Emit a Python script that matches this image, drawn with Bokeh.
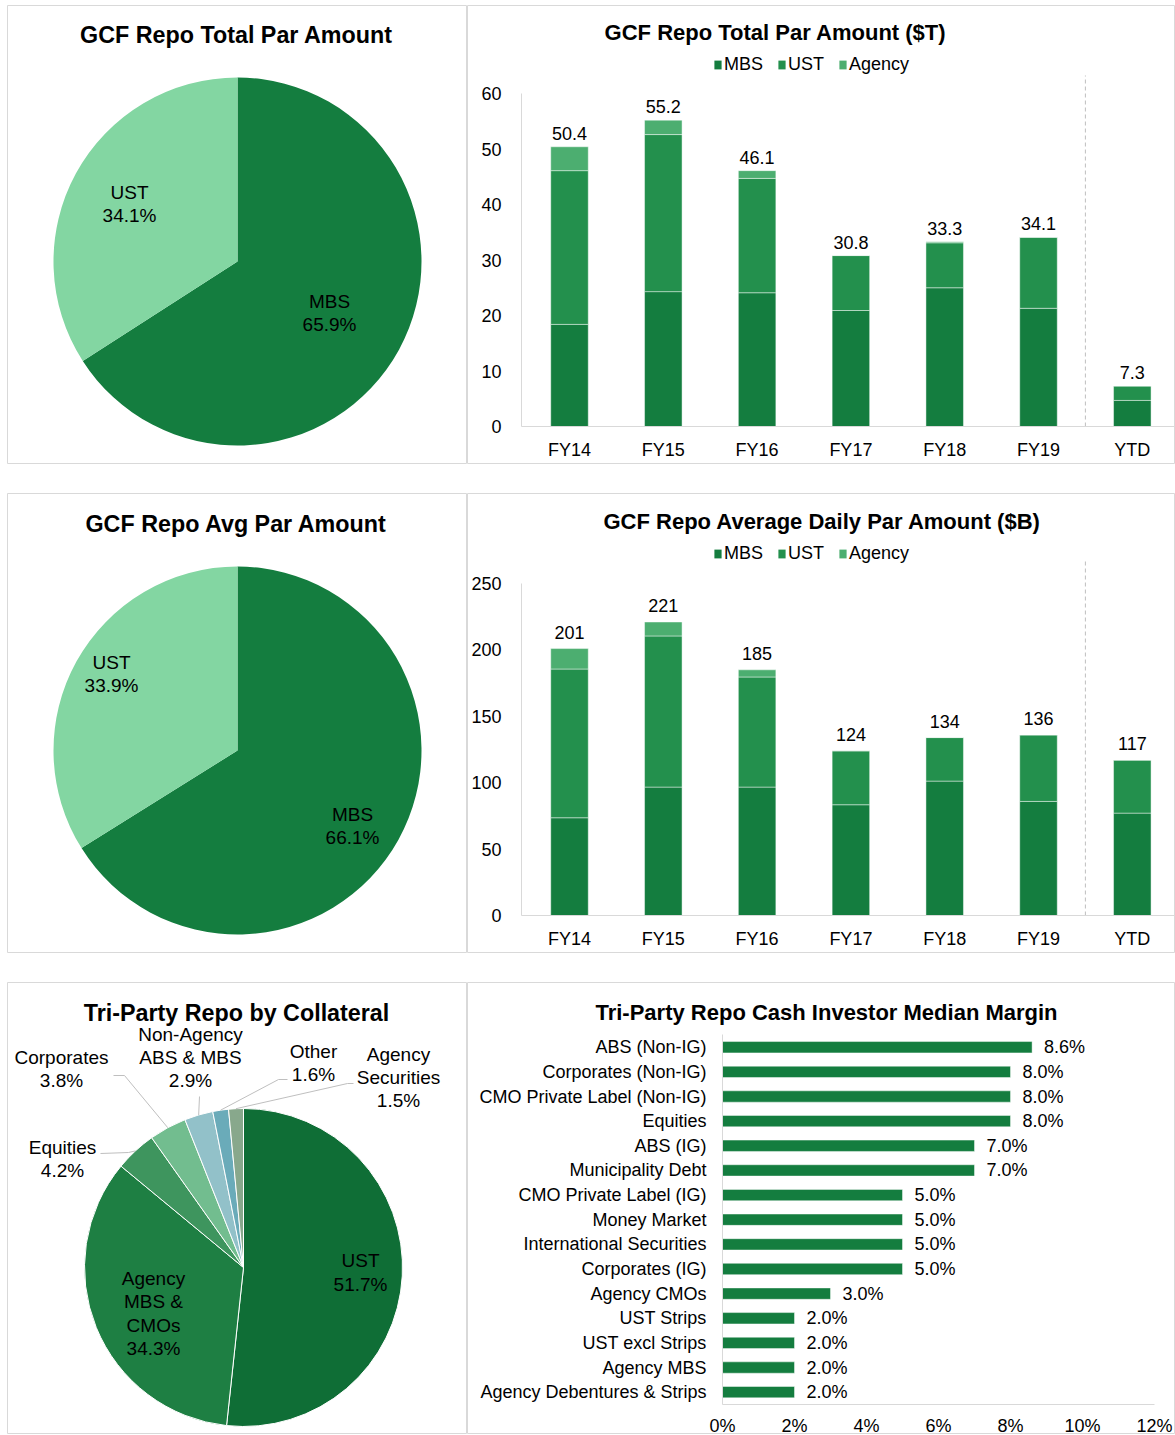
import math
from bokeh.plotting import figure
from bokeh.layouts import column, row
from bokeh.models import (Range1d, FixedTicker, Legend, LegendItem,
                          ColumnDataSource, Spacer, PrintfTickFormatter)
from bokeh.embed import file_html
from bokeh.resources import INLINE
from bokeh.core.properties import value

# ---------------- data ----------------
pie1_title = "GCF Repo Total Par Amount"
pie1_names = ["MBS", "UST"]
pie1_shares = [65.9, 34.1]

pie2_title = "GCF Repo Avg Par Amount"
pie2_names = ["MBS", "UST"]
pie2_shares = [66.1, 33.9]

periods = ["FY14", "FY15", "FY16", "FY17", "FY18", "FY19", "YTD"]
series_names = ["MBS", "UST", "Agency"]

total_title = "GCF Repo Total Par Amount ($T)"
total_mbs = [18.4, 24.3, 24.1, 20.9, 25.0, 21.3, 4.7]
total_ust = [27.7, 28.3, 20.6, 9.9, 8.1, 12.8, 2.6]
total_agency = [4.3, 2.6, 1.4, 0.0, 0.2, 0.0, 0.0]
total_ticks = [0, 10, 20, 30, 40, 50, 60]

avg_title = "GCF Repo Average Daily Par Amount ($B)"
avg_mbs = [73.6, 96.7, 96.7, 83.4, 101.2, 85.9, 77.1]
avg_ust = [112.0, 113.8, 82.9, 40.6, 32.8, 50.1, 39.9]
avg_agency = [15.4, 10.5, 5.4, 0.0, 0.0, 0.0, 0.0]
avg_ticks = [0, 50, 100, 150, 200, 250]

tri_title = "Tri-Party Repo by Collateral"
tri_names = ["UST", "Agency MBS & CMOs", "Equities", "Corporates",
             "Non-Agency ABS & MBS", "Other", "Agency Securities"]
tri_display = ["UST", "Agency\nMBS &\nCMOs", "Equities", "Corporates",
               "Non-Agency\nABS & MBS", "Other", "Agency\nSecurities"]
tri_shares = [51.7, 34.3, 4.2, 3.8, 2.9, 1.6, 1.5]

margin_title = "Tri-Party Repo Cash Investor Median Margin"
margin_categories = ["ABS (Non-IG)", "Corporates (Non-IG)", "CMO Private Label (Non-IG)",
                     "Equities", "ABS (IG)", "Municipality Debt", "CMO Private Label (IG)",
                     "Money Market", "International Securities", "Corporates (IG)",
                     "Agency CMOs", "UST Strips", "UST excl Strips", "Agency MBS",
                     "Agency Debentures & Strips"]
margin_values = [8.6, 8.0, 8.0, 8.0, 7.0, 7.0, 5.0, 5.0, 5.0, 5.0, 3.0, 2.0, 2.0, 2.0, 2.0]
margin_ticks = [0, 2, 4, 6, 8, 10, 12]

# ---------------- style ----------------
FONT = "Liberation Sans"
C_MBS = "#147D3F"
C_UST = "#23904D"
C_AGY = "#4CAE70"
C_UST_LIGHT = "#83D6A2"
TRI_COLORS = ["#0F6E36", "#1E7F43", "#3E955E", "#72BD8F", "#92C1C9", "#6AABB9", "#88A88C"]
LEADER = "#bfbfbf"
AXIS = "#d9d9d9"
PANEL = "#d9d9d9"

# panel boxes on the page: (left, top, width, height)
BOX_P1 = (7, 5, 460, 459)
BOX_B1 = (467, 5, 708, 459)
BOX_P2 = (7, 493, 460, 460)
BOX_B2 = (467, 493, 708, 460)
BOX_P3 = (7, 982, 460, 452)
BOX_M = (467, 982, 708, 452)


def base_figure(box, xr, yr, axes):
    fx, fy, fw, fh = box
    kw = {} if axes else dict(x_axis_location=None, y_axis_location=None)
    p = figure(width=fw, height=fh, x_range=Range1d(*xr), y_range=Range1d(*yr),
               toolbar_location=None, output_backend="svg", min_border=0, title=None, **kw)
    p.grid.visible = False
    p.outline_line_color = PANEL
    p.outline_line_width = 1
    p.background_fill_color = "white"
    p.border_fill_color = "white"
    return p


def add_title(p, x, y, text, size):
    p.text(x=[x], y=[y], text=[text], text_align="center", text_baseline="middle",
           text_font=value(FONT), text_font_size=size, text_font_style="bold",
           text_color="black")


def style_axis(ax, standoff):
    ax.axis_line_color = AXIS
    ax.axis_line_width = 1
    ax.major_tick_line_color = None
    ax.minor_tick_line_color = None
    ax.major_tick_out = 0
    ax.major_tick_in = 0
    ax.major_label_standoff = standoff
    ax.major_label_text_font = FONT
    ax.major_label_text_font_size = "18px"
    ax.major_label_text_color = "black"


def pie_panel(box, title, title_pos, names, shares, colors, center, radius, specs, sep):
    fx, fy, fw, fh = box
    # data coordinates = page pixels, with y negated (so y grows upward)
    p = base_figure(box, (fx, fx + fw), (-(fy + fh), -fy), False)
    cx, cy = center[0], -center[1]
    total = sum(shares)
    starts, ends, mids = [], [], []
    cum = 0.0
    for s in shares:
        f = s / total
        starts.append(math.pi / 2 - 2 * math.pi * cum)
        ends.append(math.pi / 2 - 2 * math.pi * (cum + f))
        mids.append(math.pi / 2 - 2 * math.pi * (cum + f / 2))
        cum += f
    src = ColumnDataSource(dict(start=starts, end=ends, color=colors))
    p.wedge(x=cx, y=cy, radius=radius, start_angle="start", end_angle="end",
            direction="clock", fill_color="color", line_color=sep, line_width=1, source=src)
    lx, ly, txt, xs, ys = [], [], [], [], []
    for name, s, a, spec in zip(names, shares, mids, specs):
        txt.append(f"{name}\n{s:.1f}%")
        lx.append(spec[0][0])
        ly.append(-spec[0][1])
        if spec[1]:
            xs.append([pt[0] for pt in spec[1]] + [cx + radius * math.cos(a)])
            ys.append([-pt[1] for pt in spec[1]] + [cy + radius * math.sin(a)])
    if xs:
        p.multi_line(xs=xs, ys=ys, line_color=LEADER, line_width=1)
    p.text(x=lx, y=ly, text=txt, text_align="center", text_baseline="middle",
           text_font=value(FONT), text_font_size="19px", text_line_height=1.1,
           text_color="black")
    add_title(p, title_pos[0], -title_pos[1], title, "23.3px")
    return p


def stacked_panel(box, title, title_pos, mbs, ust, agy, ticks, fmt,
                  zero_py, top_py, dash_top_py, legend_bottom_py, lab_off):
    fx, fy, fw, fh = box
    step = 93.8         # px between bar centres
    c0 = 569            # page x of first bar centre
    axis_px = 521       # page x of the value axis
    ppu = (zero_py - top_py) / ticks[-1]

    def X(px):
        return (px - c0) / step

    def Y(py):
        return (zero_py - py) / ppu

    p = base_figure(box, (X(fx), X(fx + fw)), (Y(fy + fh), Y(fy)), True)
    idx = list(range(len(periods)))
    src = ColumnDataSource(dict(x=idx, MBS=mbs, UST=ust, Agency=agy))
    colors = [C_MBS, C_UST, C_AGY]
    p.vbar_stack(series_names, x="x", width=0.4, color=colors,
                 line_color="white", line_alpha=0.45, line_width=1, source=src)
    totals = [a + b + c for a, b, c in zip(mbs, ust, agy)]
    p.text(x=idx, y=totals, text=[fmt.format(t) for t in totals], text_align="center",
           text_baseline="bottom", y_offset=lab_off, text_font=value(FONT),
           text_font_size="18px", text_color="black")
    sep = len(periods) - 1.5
    p.segment(x0=[sep], y0=[0], x1=[sep], y1=[Y(dash_top_py)], line_color=LEADER,
              line_dash="4 3", line_width=1)
    p.yaxis.ticker = FixedTicker(ticks=ticks)
    p.yaxis.bounds = (ticks[0], ticks[-1])
    p.yaxis.fixed_location = X(axis_px)
    p.xaxis.ticker = FixedTicker(ticks=idx)
    p.xaxis.major_label_overrides = {i: s for i, s in enumerate(periods)}
    p.xaxis.bounds = (X(axis_px), X(fx + fw))
    p.xaxis.fixed_location = 0
    style_axis(p.yaxis[0], 20)
    style_axis(p.xaxis[0], 13)
    # solid swatches for the legend (zero-height proxies, nothing visible on the plot)
    legend_rs = [p.vbar(x=[0], bottom=[0], top=[0], width=0.4, fill_color=c, line_color=None)
                 for c in colors]
    legend = Legend(items=[LegendItem(label=n, renderers=[r])
                           for n, r in zip(series_names, legend_rs)],
                    location=(713 - fx, fy + fh - legend_bottom_py),
                    orientation="horizontal", glyph_width=9, glyph_height=11,
                    label_standoff=2, spacing=14, padding=0, margin=0,
                    border_line_color=None, background_fill_alpha=0,
                    label_text_font=FONT, label_text_font_size="18px",
                    label_text_color="black", label_height=18)
    p.add_layout(legend)
    add_title(p, X(title_pos[0]), Y(title_pos[1]), title, "22px")
    return p


def margin_panel(box):
    fx, fy, fw, fh = box
    step = 24.64        # px between bars
    base_py = 1404      # page y of the category axis bottom
    x0_px = 722         # page x of 0%
    ppx = 36.0          # px per percentage point
    n = len(margin_categories)

    def X(px):
        return (px - x0_px) / ppx

    def Y(py):
        return (base_py - py) / step - 0.5

    p = base_figure(box, (X(fx), X(fx + fw)), (Y(fy + fh), Y(fy)), True)
    ypos = [n - 1 - i for i in range(n)]
    src = ColumnDataSource(dict(y=ypos, v=margin_values,
                                lab=[f"{v:.1f}%" for v in margin_values]))
    p.hbar(y="y", left=0, right="v", height=0.46, fill_color=C_MBS, line_color="white",
           line_alpha=0.45, line_width=1, source=src)
    p.text(x="v", y="y", text="lab", x_offset=12, text_align="left", text_baseline="middle",
           text_font=value(FONT), text_font_size="18px", text_color="black", source=src)
    p.yaxis.ticker = FixedTicker(ticks=ypos)
    p.yaxis.major_label_overrides = {n - 1 - i: c for i, c in enumerate(margin_categories)}
    p.yaxis.bounds = (-0.5, n - 0.5)
    p.yaxis.fixed_location = 0
    p.xaxis.ticker = FixedTicker(ticks=margin_ticks)
    p.xaxis.formatter = PrintfTickFormatter(format="%d%%")
    p.xaxis.bounds = (margin_ticks[0], margin_ticks[-1])
    p.xaxis.fixed_location = -0.5
    style_axis(p.yaxis[0], 16)
    style_axis(p.xaxis[0], 11)
    add_title(p, X(826), Y(1012), margin_title, "22px")
    return p


# ---------------- panels ----------------
# label specs: (label centre on page, leader elbow points or None)
p1 = pie_panel(BOX_P1, pie1_title, (236, 34), pie1_names, pie1_shares, [C_MBS, C_UST_LIGHT],
               (237, 261), 184, [((329, 312.5), None), ((129, 203.5), None)], None)
p3 = pie_panel(BOX_P2, pie2_title, (236, 523), pie2_names, pie2_shares, [C_MBS, C_UST_LIGHT],
               (237, 750), 184, [((352, 825.5), None), ((111, 673.5), None)], None)
tri_specs = [((360, 1272), None),
             ((153, 1313), None),
             ((62, 1158.5), [(100, 1153), (128, 1152)]),
             ((61, 1068.5), [(113, 1075), (124, 1075)]),
             ((190, 1057), [(199, 1096)]),
             ((313, 1062.5), [(287, 1079), (278, 1079)]),
             ((398, 1077), [(353, 1083), (347, 1083)])]
p5 = pie_panel(BOX_P3, tri_title, (236, 1012), tri_display, tri_shares, TRI_COLORS,
               (243, 1267), 159, tri_specs, "white")

p2 = stacked_panel(BOX_B1, total_title, (775, 32), total_mbs, total_ust, total_agency,
                   total_ticks, "{:.1f}", 426, 93, 75, 75, -7)
p4 = stacked_panel(BOX_B2, avg_title, (822, 521), avg_mbs, avg_ust, avg_agency,
                   avg_ticks, "{:.0f}", 915, 583, 561, 564, -10)
p6 = margin_panel(BOX_M)

layout = column(
    Spacer(height=5),
    row(Spacer(width=7), p1, p2),
    Spacer(height=29),
    row(Spacer(width=7), p3, p4),
    Spacer(height=29),
    row(Spacer(width=7), p5, p6),
)

with open("out.html", "w") as f:
    f.write(file_html(layout, INLINE))
